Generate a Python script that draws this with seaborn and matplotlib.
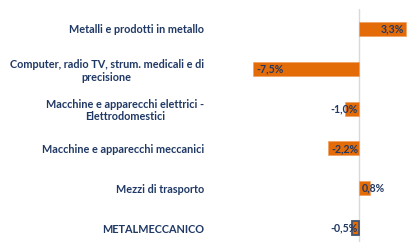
import matplotlib
matplotlib.use('Agg')
import matplotlib.pyplot as plt
import seaborn as sns
import pandas as pd

# Settori e variazioni percentuali
settori = ['Metalli e prodotti in metallo',
           'Computer, radio TV, strum. medicali e di\nprecisione',
           'Macchine e apparecchi elettrici -\nElettrodomestici',
           'Macchine e apparecchi meccanici',
           'Mezzi di trasporto',
           'METALMECCANICO']
variazioni = [3.3, -7.5, -1.0, -2.2, 0.8, -0.5]
etichette = ['3,3%', '-7,5%', '-1,0%', '-2,2%', '0,8%', '-0,5%']

data = pd.DataFrame({'settore': settori, 'var': variazioni})

navy = '#1F3864'
orange = '#E36C09'

sns.set_style('white')
plt.rcParams['font.family'] = ['Lato', 'DejaVu Sans']

fig = plt.figure(figsize=(4.07, 2.42), dpi=100)
ax = fig.add_axes([0.617, 0.0, 0.383, 0.963])

sns.barplot(x='var', y='settore', data=data, ax=ax, orient='h',
            color=orange, saturation=1, width=0.35,
            edgecolor='#F0A060', linewidth=0.5)
# the total bar has a dark outline
ax.patches[-1].set_edgecolor('#44546A')
ax.patches[-1].set_linewidth(1.3)

ax.set_xlim(-7.6, 3.4)
ax.set_ylim(5.35, -0.5)
ax.axvline(0, color='#D9D9D9', lw=1, zorder=0)

for i, (v, lab) in enumerate(zip(variazioni, etichette)):
    if abs(v) > 3:
        x, ha = v + (-0.1 if v > 0 else 0.25), 'right' if v > 0 else 'left'
    else:
        x, ha = (0.2, 'left') if v > 0 else (-0.05, 'right')
    ax.text(x, i, lab, ha=ha, va='center', color=navy,
            fontsize=7.6, fontweight='bold')

ax.set_xlabel('')
ax.set_ylabel('')
ax.set_xticks([])
ax.tick_params(axis='y', length=0, pad=34)
for t in ax.get_yticklabels():
    t.set_color(navy)
    t.set_fontweight('bold')
    t.set_fontsize(7.8)
    t.set_multialignment('center')
sns.despine(ax=ax, left=True, bottom=True)

fig.savefig('out.png', dpi=100)
